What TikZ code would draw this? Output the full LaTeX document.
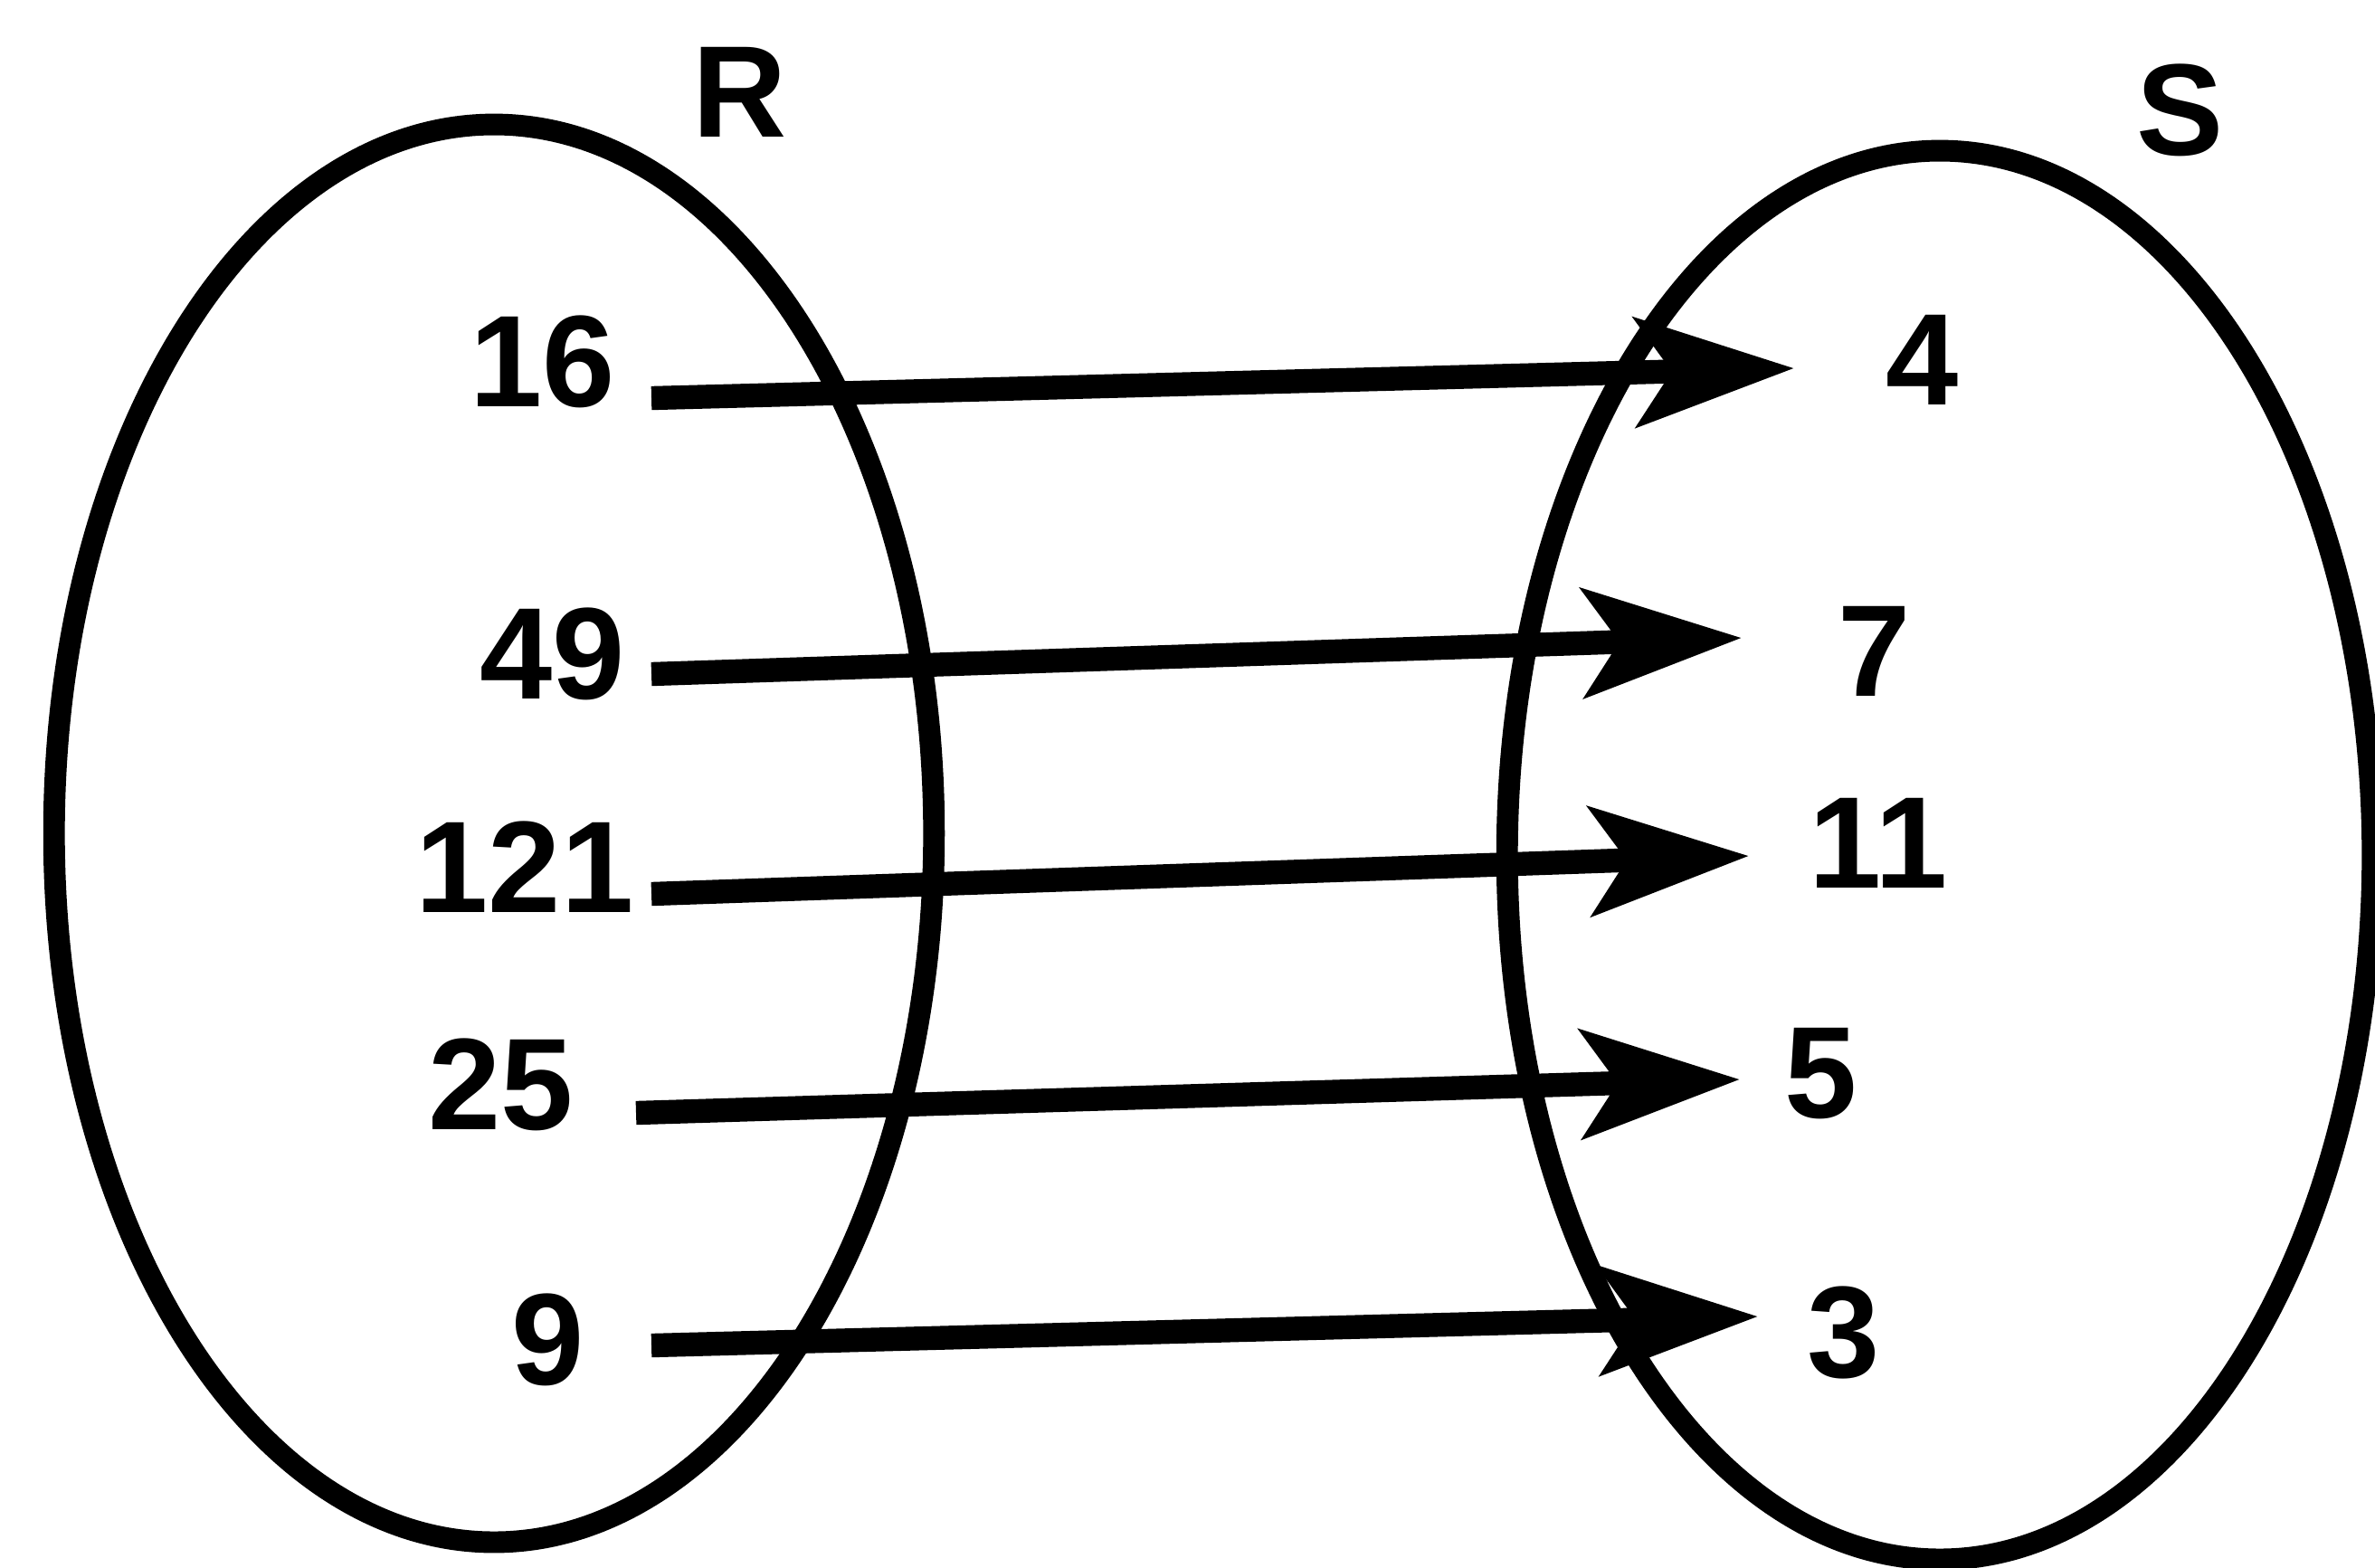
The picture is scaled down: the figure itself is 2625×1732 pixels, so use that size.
\documentclass[tikz,border=0pt]{standalone}
\usepackage{fontspec}
\setmainfont{Liberation Sans}
\usetikzlibrary{arrows.meta,shapes.geometric}
\tikzset{
  setshape/.style={draw=black, ellipse, line width=6.8pt, inner sep=0pt},
  elem/.style={inner sep=0pt, font=\fontsize{41}{48}\selectfont\bfseries},
  setname/.style={inner sep=0pt, font=\fontsize{41}{48}\selectfont\bfseries},
  maparrow/.style={line width=7.5pt, -{Stealth[length=1.75cm, width=1.2cm, inset=0.4cm]}}
}
\begin{document}
\begin{tikzpicture}[x=0.01cm, y=-0.01cm]
\useasboundingbox (0,0) rectangle (2625,1732);
% sets
\node[setshape, minimum width=9.72cm, minimum height=15.66cm] (SR) at (546,921) {};
\node[setshape, minimum width=9.56cm, minimum height=15.56cm] (SS) at (2144,945) {};
\node[setname] (lR) at (818,102) {R};
\node[setname] (lS) at (2410,122) {S};
% elements of R
\node[elem] (r16) at (600,400) {16};
\node[elem] (r49) at (611,723) {49};
\node[elem] (r121) at (580,958) {121};
\node[elem] (r25) at (554,1199) {25};
\node[elem] (r9) at (606,1481) {9};
% elements of S
\node[elem] (s4) at (2125,398) {4};
\node[elem] (s7) at (2072,720) {7};
\node[elem] (s11) at (2076,932) {11};
\node[elem] (s5) at (2013,1187) {5};
\node[elem] (s3) at (2038,1473) {3};
% arrow ends
\coordinate (a1) at (720,440);  \coordinate (b1) at (1983,407);
\coordinate (a2) at (720,745);  \coordinate (b2) at (1925,705);
\coordinate (a3) at (720,988);  \coordinate (b3) at (1933,946);
\coordinate (a4) at (703,1230); \coordinate (b4) at (1923,1193);
\coordinate (a5) at (720,1487); \coordinate (b5) at (1943,1455);
\draw[maparrow] (a1) -- (b1);
\draw[maparrow] (a2) -- (b2);
\draw[maparrow] (a3) -- (b3);
\draw[maparrow] (a4) -- (b4);
\draw[maparrow] (a5) -- (b5);
\end{tikzpicture}
\end{document}
